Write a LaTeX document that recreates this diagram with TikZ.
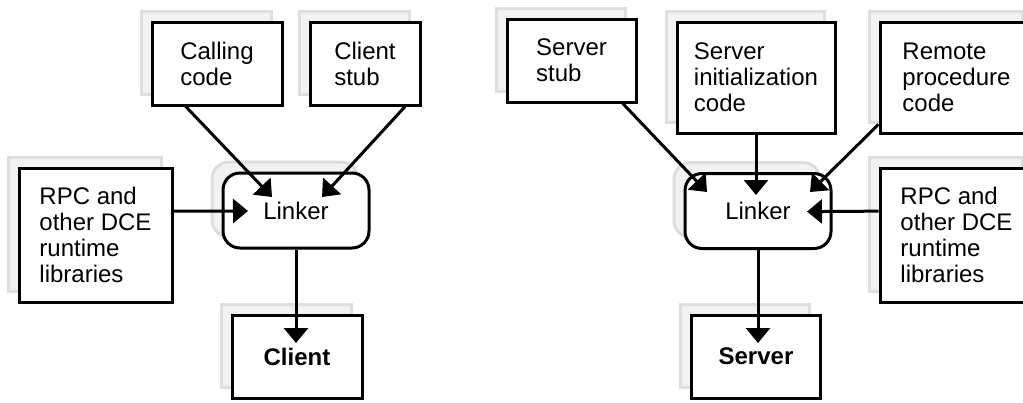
\documentclass[tikz,border=0pt]{standalone}
\usepackage{fontspec}
\setmainfont{Liberation Sans}
\usetikzlibrary{arrows.meta,shadows}

\begin{document}
\begin{tikzpicture}
  [x=1pt,y=-1pt,
   box/.style={draw, line width=3pt, fill=white, inner sep=0pt, align=left,
     font=\fontsize{24}{26}\selectfont,
     drop shadow={shadow xshift=-11pt, shadow yshift=11pt, opacity=1,
       fill=black!5, draw=black!13, line width=3pt}},
   linker/.style={box, rounded corners=17pt, minimum width=146pt, minimum height=75pt},
   arr/.style={line width=3pt, -{Triangle[length=15pt,width=24pt]}}]
  \useasboundingbox (0,0) rectangle (1023,402);
  \clip (0,0) rectangle (1023,402);

  % client side
  \node[box, minimum width=130pt, minimum height=83pt] (calling) at (217,63.5) {Calling\\code};
  \node[box, minimum width=110pt, minimum height=83pt] (cstub) at (365,63.5) {Client\\stub};
  \node[box, minimum width=153pt, minimum height=134pt] (rpcL) at (95.5,235) {RPC and\\other DCE\\runtime\\libraries};
  \node[linker] (linkL) at (296,210.5) {Linker};
  \node[box, minimum width=130pt, minimum height=83pt, font=\fontsize{24}{26}\selectfont\bfseries] (client) at (297,356.5) {Client};

  % server side
  \node[box, minimum width=129pt, minimum height=83pt] (sstub) at (571.5,60.5) {Server\\stub};
  \node[box, minimum width=158pt, minimum height=111pt] (sinit) at (756,77.5) {Server\\initialization\\code};
  \node[box, minimum width=153pt, minimum height=111pt] (remote) at (956.5,77.5) {Remote\\procedure\\code};
  \node[box, minimum width=153pt, minimum height=134pt] (rpcR) at (956.5,235) {RPC and\\other DCE\\runtime\\libraries};
  \node[linker] (linkR) at (758,211) {Linker};
  \node[box, minimum width=129pt, minimum height=83pt, font=\fontsize{24}{26}\selectfont\bfseries] (server) at (756,356.5) {Server};

  % arrow ends inside the targets
  \coordinate (inL1) at (272,197);
  \coordinate (inL2) at (322,197);
  \coordinate (inL3) at (248,211);
  \coordinate (inC) at (296,343);
  \coordinate (inR1) at (707,192);
  \coordinate (inR2) at (756,195);
  \coordinate (inR3) at (810,192);
  \coordinate (inR4) at (807,211.6);
  \coordinate (inS) at (758,343);

  \foreach \from/\to in {calling.234/inL1, cstub.313/inL2, rpcL.17/inL3, linkL.south/inC,
  sstub.320/inR1, sinit.south/inR2, remote.211/inR3, rpcR.163/inR4, linkR.south/inS}
      \draw[arr] (\from) -- (\to);
\end{tikzpicture}
\end{document}
